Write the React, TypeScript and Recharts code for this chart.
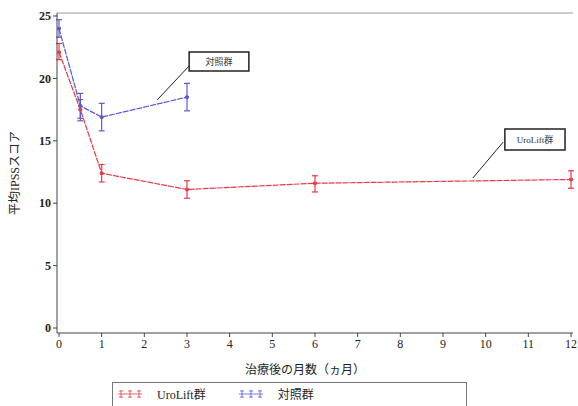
import {
  ComposedChart,
  ErrorBar,
  Line,
  ReferenceArea,
  ReferenceLine,
  XAxis,
  YAxis,
} from "recharts";

const MONTH_TICKS = [0, 1, 2, 3, 4, 5, 6, 7, 8, 9, 10, 11, 12];
const SCORE_TICKS = [0, 5, 10, 15, 20, 25];

const UROLIFT_MONTHS = [0, 0.5, 1, 3, 6, 12];
const UROLIFT_MEAN = [22.1, 17.5, 12.4, 11.1, 11.6, 11.9];
const UROLIFT_LOW = [21.5, 16.8, 11.7, 10.4, 10.9, 11.2];
const UROLIFT_HIGH = [22.8, 18.3, 13.1, 11.8, 12.2, 12.6];

const CONTROL_MONTHS = [0, 0.5, 1, 3];
const CONTROL_MEAN = [24.0, 17.8, 16.9, 18.5];
const CONTROL_LOW = [23.3, 16.6, 15.8, 17.4];
const CONTROL_HIGH = [24.7, 18.8, 18.0, 19.6];

const Y_MAX = 25.24;
const RED = "#e63b48";
const BLUE = "#5a5ad8";
const SERIF = "'Liberation Serif', 'Noto Sans CJK JP', serif";

const build = (months: number[], mean: number[], low: number[], high: number[]) =>
  months.map((m, i) => ({
    month: m,
    score: mean[i],
    err: [mean[i] - low[i], high[i] - mean[i]],
  }));

const SERIES = [
  { name: "UroLift群", color: RED, data: build(UROLIFT_MONTHS, UROLIFT_MEAN, UROLIFT_LOW, UROLIFT_HIGH) },
  { name: "対照群", color: BLUE, data: build(CONTROL_MONTHS, CONTROL_MEAN, CONTROL_LOW, CONTROL_HIGH) },
];

function LegendMark({ color }: { color: string }) {
  return (
    <svg width={26} height={10} style={{ verticalAlign: "middle" }}>
      <line x1={1} y1={5} x2={25} y2={5} stroke={color} strokeWidth={1} opacity={0.8} />
      {[4, 13, 22].map((x) => (
        <g key={x} stroke={color} strokeWidth={1} opacity={0.8}>
          <line x1={x} y1={1} x2={x} y2={9} />
          <line x1={x - 2} y1={2} x2={x + 2} y2={2} />
          <line x1={x - 2} y1={8} x2={x + 2} y2={8} />
        </g>
      ))}
    </svg>
  );
}

export default function App() {
  return (
    <div style={{ position: "absolute", left: 0, top: 0, width: 578, height: 406, background: "#fff", overflow: "hidden" }}>
      <ComposedChart width={578} height={406} margin={{ top: 13, right: 5, bottom: 53, left: 0 }}>
        <XAxis
          type="number"
          dataKey="month"
          domain={[0, 12]}
          ticks={MONTH_TICKS}
          interval={0}
          padding={{ left: 2, right: 2 }}
          height={20}
          tickSize={4}
          stroke="#444"
          tick={{ fontSize: 12, fontFamily: SERIF, fill: "#222" }}
          label={{
            content: (p: any) => (
              <text
                x={p.viewBox.x + p.viewBox.width / 2 - 10}
                y={374}
                textAnchor="middle"
                fontSize={12}
                fontFamily={SERIF}
                fill="#222"
              >
                治療後の月数（ヵ月）
              </text>
            ),
          }}
        />
        <YAxis
          type="number"
          domain={[-0.4, Y_MAX]}
          ticks={SCORE_TICKS}
          allowDataOverflow
          width={57}
          tickSize={4}
          stroke="#444"
          tick={{ fontSize: 12, fontFamily: SERIF, fill: "#222", fontWeight: "bold" }}
          label={{
            content: (p: any) => {
              const cy = p.viewBox.y + p.viewBox.height / 2;
              return (
                <text
                  x={15}
                  y={cy}
                  transform={`rotate(-90 15 ${cy})`}
                  textAnchor="middle"
                  dominantBaseline="central"
                  fontSize={12}
                  fontFamily={SERIF}
                  fill="#222"
                >
                  平均IPSSスコア
                </text>
              );
            },
          }}
        />
        <YAxis yAxisId="right" orientation="right" type="number" domain={[-0.4, Y_MAX]} width={0} tick={false} tickLine={false} stroke="#888" />
        <ReferenceLine y={Y_MAX} stroke="#999" strokeWidth={1} ifOverflow="extendDomain" />

        {SERIES.map((s) => (
          <Line
            key={s.name}
            data={s.data}
            dataKey="score"
            name={s.name}
            stroke={s.color}
            strokeWidth={1.2}
            strokeDasharray="6 1"
            dot={{ r: 1.5, stroke: s.color, fill: s.color }}
            isAnimationActive={false}
          >
            <ErrorBar dataKey="err" direction="y" width={3} stroke={s.color} strokeWidth={1.2} />
          </Line>
        ))}

        <ReferenceLine segment={[{ x: 2.3, y: 18.27 }, { x: 3.05, y: 21.0 }]} stroke="#222" strokeWidth={1} ifOverflow="visible" />
        <ReferenceArea
          x1={3.05}
          x2={4.45}
          y1={20.6}
          y2={22.12}
          fill="#fff"
          fillOpacity={1}
          stroke="#222"
          strokeWidth={1.5}
          ifOverflow="visible"
          label={{ value: "対照群", position: "center", fontSize: 9, fill: "#333", fontFamily: SERIF }}
        />
        <ReferenceLine segment={[{ x: 9.7, y: 12.02 }, { x: 10.41, y: 14.9 }]} stroke="#222" strokeWidth={1} ifOverflow="visible" />
        <ReferenceArea
          x1={10.45}
          x2={11.86}
          y1={14.26}
          y2={15.95}
          fill="#fff"
          fillOpacity={1}
          stroke="#222"
          strokeWidth={1.5}
          ifOverflow="visible"
          label={{ value: "UroLift群", position: "center", fontSize: 9, fill: "#333", fontFamily: SERIF }}
        />
      </ComposedChart>

      <div
        style={{
          position: "absolute",
          left: 112,
          top: 382,
          width: 353,
          height: 40,
          border: "1px solid #777",
          fontFamily: SERIF,
          fontSize: 12,
          color: "#222",
          display: "flex",
          alignItems: "flex-start",
          paddingTop: 2,
        }}
      >
        {SERIES.map((s, i) => (
          <span key={s.name} style={{ display: "flex", alignItems: "center", marginLeft: i === 0 ? 4 : 32 }}>
            <LegendMark color={s.color} />
            <span style={{ marginLeft: 14 }}>{s.name}</span>
          </span>
        ))}
      </div>
    </div>
  );
}
